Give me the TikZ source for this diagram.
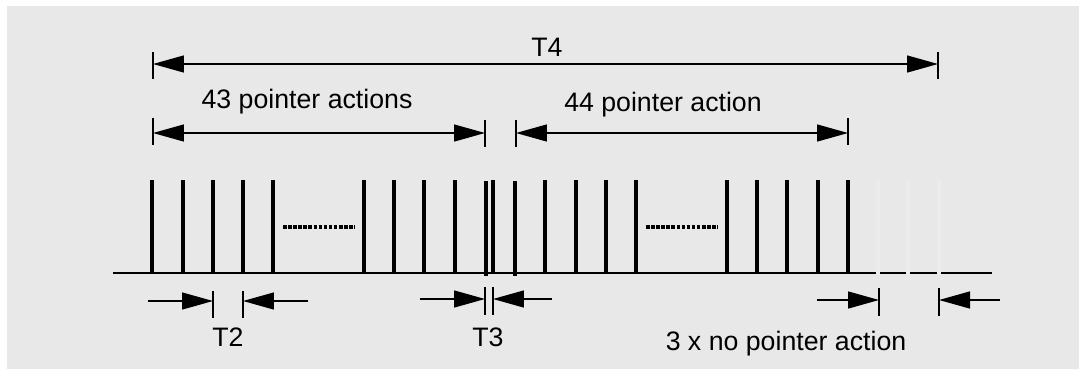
\documentclass[tikz,border=0pt]{standalone}
\usepackage{fontspec}
\setmainfont{Liberation Sans}
\usetikzlibrary{arrows.meta, positioning}

\definecolor{panelgray}{HTML}{E8E8E8}
\definecolor{ghostgray}{HTML}{EBEBEB}

\begin{document}
\begin{tikzpicture}[
        x=0.02cm, y=-0.02cm,
        pulse/.style={draw=black, line width=1.8pt},
        ghost/.style={draw=ghostgray, line width=1.8pt},
        base/.style={draw=black, line width=1.5pt},
        gapfill/.style={draw=black, line width=2pt, dash pattern=on 2pt off 0.9pt},
        tick/.style={draw=black, line width=0.9pt},
        dim/.style={draw=black, line width=0.8pt},
        both/.style={dim, {Triangle[length=0.62cm, width=0.34cm]}-{Triangle[length=0.62cm, width=0.34cm]}},
        inward/.style={dim, -{Triangle[length=0.62cm, width=0.34cm]}},
        lbl/.style={font=\fontsize{15.2}{18}\selectfont, inner sep=0pt, anchor=base}
    ]
        % Background
        \useasboundingbox (0,0) rectangle (1079,369);
        \fill[white] (0,0) rectangle (1079,369);
        \fill[panelgray] (7,6) rectangle (1079,369);

        % Time axis and pulses
        \draw[base] (113,273) -- (992,273);
        \foreach \x in {152,183,213,243,273,364,394,424,455,493,545,576,606,636,727,757,787,818,848}
            \draw[pulse] (\x,180) -- (\x,273);
        \draw[pulse] (486,181) -- (486,276);
        \draw[pulse] (515,181) -- (515,276);
        \foreach \x in {878,908,939}
            \draw[ghost] (\x,180) -- (\x,275);

        % Omitted pulses
        \draw[gapfill] (283,227) -- (355,227);
        \draw[gapfill] (646,227) -- (718,227);

        % T4
        \coordinate (t4a) at (153,64);
        \coordinate (t4b) at (938,64);
        \draw[tick] (153,52) -- (153,79);
        \draw[tick] (938,52) -- (938,79);
        \draw[both] (t4a) -- (t4b);
        \node[lbl] (lblT4) at (547,56) {T4};

        % 43 / 44 pointer actions
        \coordinate (p43a) at (153,133);
        \coordinate (p43b) at (485,133);
        \coordinate (p44a) at (516,133);
        \coordinate (p44b) at (848,133);
        \draw[tick] (153,118) -- (153,145);
        \draw[tick] (485,120) -- (485,147);
        \draw[tick] (516,120) -- (516,147);
        \draw[tick] (848,118) -- (848,145);
        \draw[both] (p43a) -- (p43b);
        \draw[both] (p44a) -- (p44b);
        \node[lbl] (lbl43) at (307,108) {43 pointer actions};
        \node[lbl] (lbl44) at (663,111) {44 pointer action};

        % T2
        \coordinate (t2l) at (148,301);
        \coordinate (t2a) at (213,301);
        \coordinate (t2b) at (243,301);
        \coordinate (t2r) at (308,301);
        \draw[tick] (213,291) -- (213,318);
        \draw[tick] (243,291) -- (243,318);
        \draw[inward] (t2l) -- (t2a);
        \draw[inward] (t2r) -- (t2b);
        \node[lbl] (lblT2) at (228,346) {T2};

        % T3
        \coordinate (t3l) at (420,299);
        \coordinate (t3a) at (485,299);
        \coordinate (t3b) at (493,299);
        \coordinate (t3r) at (552,299);
        \draw[tick] (485,287) -- (485,315);
        \draw[tick] (493,287) -- (493,315);
        \draw[inward] (t3l) -- (t3a);
        \draw[inward] (t3r) -- (t3b);
        \node[lbl] (lblT3) at (488,346) {T3};

        % No pointer action
        \coordinate (npl) at (817,300);
        \coordinate (npa) at (879,300);
        \coordinate (npb) at (939,300);
        \coordinate (npr) at (1000,300);
        \draw[tick] (879,288) -- (879,316);
        \draw[tick] (939,288) -- (939,316);
        \draw[inward] (npl) -- (npa);
        \draw[inward] (npr) -- (npb);
        \node[lbl] (lblnone) at (786,350) {3 x no pointer action};
    \end{tikzpicture}
\end{document}
